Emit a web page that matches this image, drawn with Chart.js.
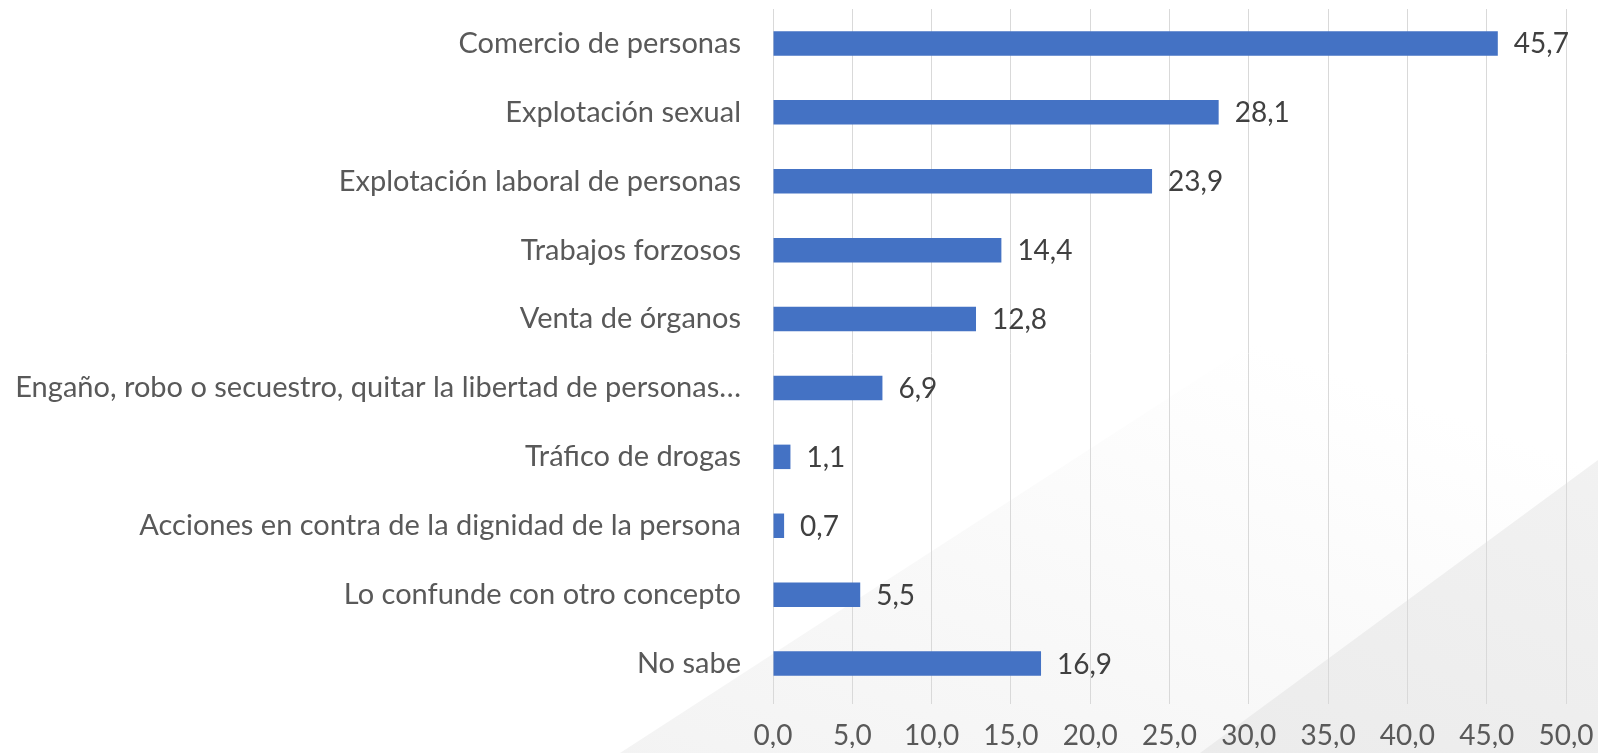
<!DOCTYPE html>
<html>
<head>
<meta charset="utf-8">
<script src="https://cdn.jsdelivr.net/npm/chart.js@4"></script>
<style>
    html, body { margin: 0; padding: 0; background: #ffffff; }
    #wrap { position: relative; width: 1598px; height: 753px; overflow: hidden; }
    /* sfondo diapositiva: fasce diagonali grigie */
    .shade { position: absolute; left: 0; top: 0; width: 1598px; height: 753px; }
    .shade.a {
        background: linear-gradient(200deg, rgba(255,255,255,0) 35%, #efefef 100%);
        clip-path: polygon(620px 753px, 1598px 120px, 1598px 753px);
    }
    .shade.b {
        background: linear-gradient(200deg, #f4f4f4 20%, #e6e6e6 100%);
        clip-path: polygon(1200px 753px, 1598px 460px, 1598px 753px);
    }
    canvas { position: absolute; left: 0; top: 0; }
</style>
</head>
<body>
<div id="wrap">
    <div class="shade a"></div>
    <div class="shade b"></div>
    <canvas id="chart" width="1598" height="753"></canvas>
</div>
<script>
// Dati
const categories = [
    'Comercio de personas',
    'Explotación sexual',
    'Explotación laboral de personas',
    'Trabajos forzosos',
    'Venta de órganos',
    'Engaño, robo o secuestro, quitar la libertad de personas…',
    'Tráfico de drogas',
    'Acciones en contra de la dignidad de la persona',
    'Lo confunde con otro concepto',
    'No sabe'
];
const values = [45.7, 28.1, 23.9, 14.4, 12.8, 6.9, 1.1, 0.7, 5.5, 16.9];
const axisMin = 0;
const axisMax = 50;
const axisStep = 5;

const FONT = 'Lato, "Open Sans", sans-serif';

// Formato numerico con virgola decimale
function fmt(v) {
    return Number(v).toFixed(1).replace('.', ',');
}

// Etichette dei valori alla fine delle barre
const valueLabels = {
    id: 'valueLabels',
    afterDatasetsDraw(chart) {
        const ctx = chart.ctx;
        const meta = chart.getDatasetMeta(0);
        ctx.save();
        ctx.font = '28px ' + FONT;
        ctx.fillStyle = '#404040';
        ctx.textAlign = 'left';
        ctx.textBaseline = 'middle';
        meta.data.forEach((bar, i) => {
            ctx.fillText(fmt(values[i]), bar.x + 16, bar.y + 1);
        });
        ctx.restore();
    }
};

const ctx = document.getElementById('chart').getContext('2d');
new Chart(ctx, {
    type: 'bar',
    data: {
        labels: categories,
        datasets: [{
            data: values,
            backgroundColor: '#4472C4',
            borderWidth: 0,
            barPercentage: 0.71,
            categoryPercentage: 0.5
        }]
    },
    options: {
        indexAxis: 'y',
        responsive: false,
        animation: false,
        layout: {
            padding: { top: 9, right: 32, bottom: 5, left: 0 }
        },
        plugins: {
            legend: { display: false },
            tooltip: { enabled: false }
        },
        scales: {
            x: {
                min: axisMin,
                max: axisMax,
                border: { display: false },
                grid: {
                    color: '#d9d9d9',
                    lineWidth: 1,
                    drawTicks: true,
                    tickLength: 6
                },
                afterFit: scale => {
                    scale.height = 50;
                    scale.paddingLeft = 0;
                    scale.paddingRight = 0;
                },
                ticks: {
                    stepSize: axisStep,
                    padding: 15,
                    color: '#595959',
                    font: { family: FONT, size: 28 },
                    callback: v => fmt(v)
                }
            },
            y: {
                border: { display: false },
                grid: {
                    display: true,
                    drawOnChartArea: false,
                    drawTicks: true,
                    tickLength: 32,
                    color: 'rgba(0,0,0,0)'
                },
                afterFit: scale => {
                    scale.width = 773;
                    scale.paddingTop = 0;
                    scale.paddingBottom = 0;
                },
                ticks: {
                    autoSkip: false,
                    padding: 0,
                    color: '#595959',
                    font: { family: FONT, size: 29 }
                }
            }
        }
    },
    plugins: [valueLabels]
});
</script>
</body>
</html>
